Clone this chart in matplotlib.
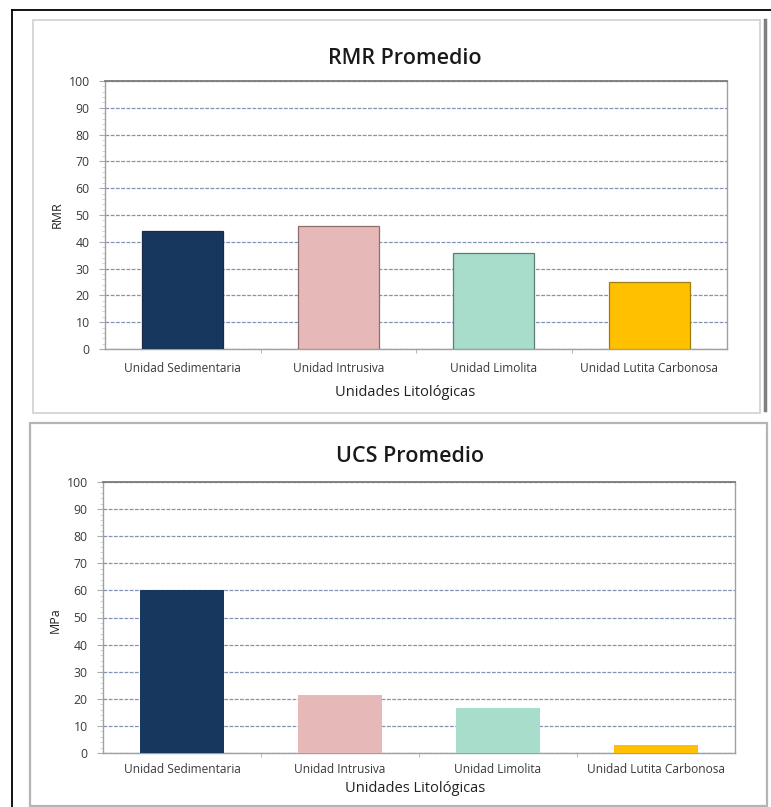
import matplotlib
matplotlib.use("Agg")
import matplotlib.pyplot as plt
from matplotlib.patches import Rectangle
from matplotlib.lines import Line2D
from matplotlib.ticker import MultipleLocator, FixedLocator

categories = ["Unidad Sedimentaria", "Unidad Intrusiva", "Unidad Limolita", "Unidad Lutita Carbonosa"]
rmr_values = [44, 46, 36, 25]
ucs_values = [60, 21.5, 16.5, 3]
bar_colors = ["#17375E", "#E6B9B8", "#A8DDCC", "#FFC000"]
edge_colors = ["#1A2B45", "#8C6F6F", "#5E7D73", "#A07D10"]
titles = ["RMR Promedio", "UCS Promedio"]
ylabels = ["RMR", "MPa"]
xlabel = "Unidades Litológicas"

W, H = 771, 807
fig = plt.figure(figsize=(W / 100, H / 100), dpi=100)
fig.patch.set_facecolor("white")

FONT = ["Open Sans", "DejaVu Sans"]
TFONT = ["Open Sans", "DejaVu Sans"]

def fx(x):
    return x / W

def fy(y):
    return 1 - y / H

# frames
fig.add_artist(Line2D([fx(12), fx(771)], [fy(10), fy(10)], color="black", lw=1.3))
fig.add_artist(Line2D([fx(12), fx(12)], [fy(10), fy(807)], color="black", lw=1.3))
fig.add_artist(Rectangle((fx(33), fy(413)), fx(760 - 33), (413 - 20) / H, fill=False,
                         edgecolor="#CFCFCF", lw=1.2))
fig.add_artist(Line2D([fx(765), fx(765)], [fy(20), fy(410)], color="#7F7F7F", lw=2.5))
fig.add_artist(Rectangle((fx(30), fy(806)), fx(767 - 30), (806 - 423) / H, fill=False,
                         edgecolor="#B5B5B5", lw=1.6))

def make(ax_px, values, title, ylabel, edges, bw, title_xy, xl_xy, yl_xy, tick_pad):
    l, r, t, b = ax_px
    ax = fig.add_axes([fx(l), fy(b), (r - l) / W, (b - t) / H])
    x = list(range(len(categories)))
    if edges:
        ax.bar(x, values, width=bw, color=bar_colors, edgecolor=edge_colors, linewidth=0.9, zorder=3)
    else:
        ax.bar(x, values, width=bw, color=bar_colors, linewidth=0, zorder=3)
    ax.set_xlim(-0.5, len(categories) - 0.5)
    ax.set_ylim(0, 100)
    ax.yaxis.set_major_locator(MultipleLocator(10))
    ax.yaxis.set_minor_locator(MultipleLocator(2))
    ax.set_xticks(x)
    ax.set_xticklabels(categories, fontsize=8.6, family=FONT, color="#3A3A3A")
    ax.xaxis.set_minor_locator(FixedLocator([0.5, 1.5, 2.5]))
    ax.tick_params(axis="x", which="major", length=0, pad=tick_pad)
    ax.tick_params(axis="x", which="minor", length=3, color="#AAAAAA", direction="out")
    ax.tick_params(axis="y", which="major", length=4, color="#AAAAAA", labelsize=8.8,
                   labelcolor="#3A3A3A", pad=7)
    ax.tick_params(axis="y", which="minor", length=2, color="#CCCCCC")
    for lab in ax.get_yticklabels():
        lab.set_family(FONT)
    ax.grid(axis="y", which="major", color="#8194B2", linestyle=(0, (3, 1.2)), linewidth=0.9, zorder=1)
    for s in ax.spines.values():
        s.set_color("#A0A0A0")
        s.set_linewidth(1.0)
    ax.spines["top"].set_color("#7A7A7A")
    ax.spines["top"].set_linewidth(1.3)
    fig.text(fx(title_xy[0]), fy(title_xy[1]), title, ha="center", va="center",
             fontsize=15.5, family=TFONT, weight="semibold", color="#1A1A1A")
    fig.text(fx(xl_xy[0]), fy(xl_xy[1]), xlabel, ha="center", va="center",
             fontsize=10.5, family=FONT, color="#222222")
    fig.text(fx(yl_xy[0]), fy(yl_xy[1]), ylabel, ha="center", va="center", rotation=90,
             fontsize=9, family=FONT, color="#222222")
    return ax

make((105, 727, 81, 349), rmr_values, titles[0], ylabels[0], True, 0.52,
     (405, 58), (405, 392), (57, 215), 9)
make((103, 735, 482, 753), ucs_values, titles[1], ylabels[1], False, 0.53,
     (410, 456), (415, 788), (55, 620), 7)

fig.savefig("out.png", dpi=100, facecolor="white")
